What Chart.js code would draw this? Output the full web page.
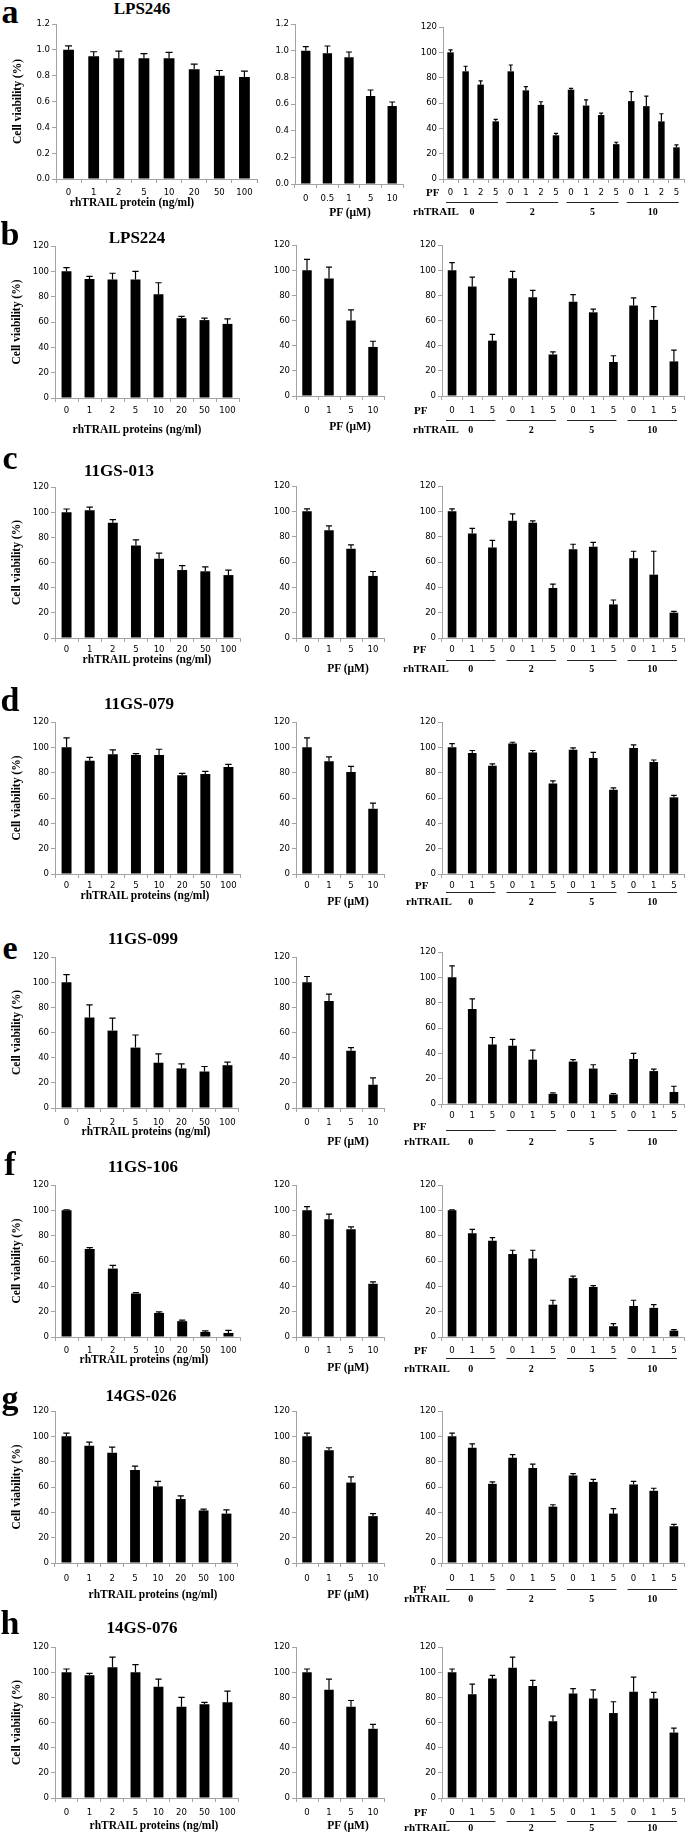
<!DOCTYPE html>
<html>
<head>
<meta charset="utf-8">
<script src="https://cdn.jsdelivr.net/npm/chart.js@4.4.1/dist/chart.umd.min.js"></script>
<style>
  html, body { margin: 0; padding: 0; background: #fff; }
  #fig { position: relative; width: 685px; height: 1837px; overflow: hidden; }
  #fig canvas { position: absolute; }
  .t { position: absolute; white-space: nowrap; font-family: "Liberation Serif", "Times New Roman", serif;
       font-weight: bold; color: #000; line-height: 1; transform: translate(-50%, -50%); }
</style>
</head>
<body>
<div id="fig"></div>
<script>
// x categories
const trailDoses = ["0", "1", "2", "5", "10", "20", "50", "100"];
const pfDosesA = ["0", "0.5", "1", "5", "10"];
const pfDoses = ["0", "1", "5", "10"];
const comboPfA = ["0", "1", "2", "5"];
const comboPf = ["0", "1", "5"];
const trailGroups = ["0", "2", "5", "10"];

// a - LPS246
const lps246Trail = [1.00, 0.95, 0.935, 0.935, 0.935, 0.85, 0.80, 0.79];
const lps246TrailErr = [0.03, 0.035, 0.055, 0.035, 0.045, 0.04, 0.04, 0.045];
const lps246Pf = [1.00, 0.98, 0.95, 0.66, 0.585];
const lps246PfErr = [0.03, 0.055, 0.04, 0.045, 0.03];
const lps246Combo = [100, 85, 74.5, 45.5, 85, 70, 58.5, 34.5, 70.5, 58, 50.5, 27.5, 61.5, 57.5, 45.5, 25];
const lps246ComboErr = [2, 4, 3, 1.5, 5, 3, 2.5, 1.5, 1, 4.5, 1.5, 1.5, 7.5, 8, 6, 2];

// b - LPS224
const lps224Trail = [100, 94, 93.5, 93.5, 82, 63, 61.5, 58.5];
const lps224TrailErr = [3, 2, 5, 6.5, 9, 1.5, 1.5, 4];
const lps224Pf = [100, 93.4, 60, 39];
const lps224PfErr = [8.5, 9, 8.5, 4.5];
const lps224Combo = [100, 87, 44, 93.5, 78.5, 33, 75, 66.5, 27, 72, 60.5, 27.5];
const lps224ComboErr = [6, 7.5, 5, 5.5, 5.5, 2, 5.5, 2.5, 5, 6, 10.5, 9];

// c - 11GS-013
const gs013Trail = [100, 101.5, 91.5, 73.5, 63, 54, 53, 50];
const gs013TrailErr = [2.5, 2.5, 2.5, 4.5, 4.5, 3.5, 3.5, 4];
const gs013Pf = [100, 85, 70.5, 49];
const gs013PfErr = [2, 3.5, 3, 3.5];
const gs013Combo = [100, 82.5, 71.5, 92.5, 91, 39.5, 70, 72, 26.5, 63, 50, 20];
const gs013ComboErr = [2, 4, 5.5, 5.5, 1.5, 3, 4, 3.5, 3.5, 5.5, 18.5, 1];

// d - 11GS-079
const gs079Trail = [100, 89.5, 94.5, 94, 94, 78, 79, 84.5];
const gs079TrailErr = [7.5, 2.5, 3.5, 1, 4.5, 1.5, 2, 2];
const gs079Pf = [100, 89, 80.5, 51.5];
const gs079PfErr = [7.5, 3.5, 4.5, 4.5];
const gs079Combo = [100, 95.5, 85.5, 103, 96, 71.5, 98, 91.5, 66.5, 99.5, 88.5, 60.5];
const gs079ComboErr = [3, 2, 1.5, 1, 1.5, 2, 1.5, 4.5, 1.5, 2.5, 1.5, 1.5];

// e - 11GS-099
const gs099Trail = [100, 72, 61.5, 48, 36, 31.5, 29, 34];
const gs099TrailErr = [6, 10, 10, 10, 7, 3.5, 4, 2.5];
const gs099Pf = [100, 85, 45.5, 18.5];
const gs099PfErr = [4.5, 5.5, 2.5, 5.5];
const gs099Combo = [100, 75, 47, 46, 35, 8, 33.5, 28, 7.5, 35.5, 26, 9.5];
const gs099ComboErr = [9, 8, 5.5, 5, 7.5, 0.8, 1.5, 3, 0.8, 4.5, 1.5, 4.5];

// f - 11GS-106
const gs106Trail = [100, 69.5, 54, 34.3, 19, 12.5, 4, 3.2];
const gs106TrailErr = [0.4, 1, 2.5, 0.8, 0.8, 0.8, 0.8, 2];
const gs106Pf = [100, 93, 85, 42];
const gs106PfErr = [3, 4, 2, 1.5];
const gs106Combo = [100, 82, 76, 65.5, 62, 25.5, 46.5, 39.5, 8.5, 24.5, 23, 5];
const gs106ComboErr = [0.4, 3, 2.5, 3, 6.5, 3.5, 1.5, 1, 2, 4.5, 2.5, 0.8];

// g - 14GS-026
const gs026Trail = [100, 92.5, 87, 73.5, 60.5, 50.5, 41.5, 39];
const gs026TrailErr = [2.5, 3, 4.5, 3, 4, 2.5, 1, 3];
const gs026Pf = [100, 89, 63.5, 37];
const gs026PfErr = [2.5, 2, 4.5, 2];
const gs026Combo = [100, 91, 62.5, 83, 75, 44.5, 69, 64, 39, 62, 57, 29];
const gs026ComboErr = [2.5, 3, 1.5, 2.5, 3, 1.5, 1.5, 2, 4, 2.5, 2, 1.5];

// h - 14GS-076
const gs076Trail = [100, 97.5, 104, 100, 88.5, 72.5, 74.5, 76];
const gs076TrailErr = [2.5, 1.5, 8, 6, 6, 7.5, 1.5, 9];
const gs076Pf = [100, 86, 72.5, 55];
const gs076PfErr = [2.5, 8.5, 5, 3.5];
const gs076Combo = [100, 82.5, 95, 103.5, 89, 61, 83, 79, 67.5, 84.5, 79, 52];
const gs076ComboErr = [2.5, 8, 2.5, 8.5, 4.5, 4, 4, 7, 9, 11.5, 5, 3.5];

const AXIS = "#a3a3a3";
const SERIF = "'Liberation Serif', 'Times New Roman', serif";
const TICK_FONT = { family: "'Liberation Sans Narrow', 'DejaVu Sans Condensed', 'Liberation Sans', sans-serif", size: 9.5 };

const fig = document.getElementById("fig");

function addText(text, cx, cy, size) {
  const el = document.createElement("div");
  el.className = "t";
  el.textContent = text;
  el.style.fontSize = size + "px";
  el.style.left = cx + "px";
  el.style.top = cy + "px";
  fig.appendChild(el);
}

// upper error bars only
const errorBars = {
  id: "errorBars",
  afterDatasetsDraw(chart) {
    const ds = chart.data.datasets[0];
    const yScale = chart.scales.y;
    const ctx = chart.ctx;
    ctx.save();
    ctx.strokeStyle = "#000";
    ctx.lineWidth = 1.2;
    chart.getDatasetMeta(0).data.forEach((bar, i) => {
      const yTop = yScale.getPixelForValue(ds.data[i] + ds.errors[i]);
      const cap = bar.width * 0.32;
      ctx.beginPath();
      ctx.moveTo(bar.x, bar.y);
      ctx.lineTo(bar.x, yTop);
      ctx.moveTo(bar.x - cap, yTop);
      ctx.lineTo(bar.x + cap, yTop);
      ctx.stroke();
    });
    ctx.restore();
  }
};

// second row of the combination axis: underlines, rhTRAIL doses, row headers
const groupAxis = {
  id: "groupAxis",
  afterDraw(chart) {
    const g = chart.data.datasets[0].groupCfg;
    if (!g) return;
    const x = chart.scales.x;
    const ctx = chart.ctx;
    const step = x.getPixelForValue(1) - x.getPixelForValue(0);
    ctx.save();
    ctx.fillStyle = "#000";
    ctx.strokeStyle = "#222";
    ctx.lineWidth = 1;
    ctx.textAlign = "center";
    ctx.textBaseline = "middle";
    ctx.font = "bold 10px " + SERIF;
    g.groups.forEach((label, gi) => {
      const a = x.getPixelForValue(gi * g.size) - step * 0.3;
      const b = x.getPixelForValue(gi * g.size + g.size - 1) + step * 0.15;
      const uy = Math.round(g.lineY - g.top) + 0.5;
      ctx.beginPath();
      ctx.moveTo(a, uy);
      ctx.lineTo(b, uy);
      ctx.stroke();
      ctx.fillText(label, (a + b) / 2, g.groupY - g.top);
    });
    ctx.font = "bold 11px " + SERIF;
    ctx.textAlign = "left";
    ctx.fillText("PF", g.pfX - g.left, g.pfY - g.top);
    ctx.fillText("rhTRAIL", g.trailX - g.left, g.groupY - g.top);
    ctx.restore();
  }
};

function makePanel(p) {
  const L = p.left || 40, T = 8, R = 1, B = 50;
  const w = p.x1 - p.x0 + L + R;
  const h = p.yBot - p.yTop + T + B;
  const left = p.x0 - L, top = p.yTop - T;
  const canvas = document.createElement("canvas");
  canvas.width = w;
  canvas.height = h;
  canvas.style.left = left + "px";
  canvas.style.top = top + "px";
  canvas.style.width = w + "px";
  canvas.style.height = h + "px";
  fig.appendChild(canvas);

  let groupCfg = null;
  if (p.group) {
    groupCfg = Object.assign({ left, top }, p.group);
  }

  new Chart(canvas, {
    type: "bar",
    data: {
      labels: p.labels,
      datasets: [{
        data: p.values,
        errors: p.errors,
        groupCfg,
        backgroundColor: "#000",
        borderWidth: 0,
        barPercentage: 0.43,
        categoryPercentage: 1
      }]
    },
    options: {
      responsive: false,
      animation: false,
      devicePixelRatio: 1,
      layout: { padding: { left: 0, top: T, right: R, bottom: 0 } },
      plugins: { legend: { display: false }, tooltip: { enabled: false } },
      scales: {
        x: {
          grid: { offset: true, drawOnChartArea: false, tickLength: 4, color: AXIS },
          border: { color: AXIS },
          ticks: { font: TICK_FONT, color: "#000", padding: p.labelOffset - 4 - 5.7, autoSkip: false, maxRotation: 0 },
          afterFit(s) { s.height = B; }
        },
        y: {
          min: 0,
          max: p.max,
          ticks: {
            stepSize: p.step,
            font: TICK_FONT,
            color: "#000",
            padding: 2,
            callback: (v) => (p.max < 2 ? Number(v).toFixed(1) : String(v))
          },
          grid: { drawOnChartArea: false, tickLength: 4, color: AXIS },
          border: { color: AXIS },
          title: {
            display: !!p.yTitle,
            text: "Cell viability (%)",
            color: "#000",
            font: { family: SERIF, size: 11.5, weight: "bold" },
            padding: { top: 7, bottom: 0 }
          },
          afterFit(s) { s.width = L; }
        }
      }
    },
    plugins: [errorBars, groupAxis]
  });
}

const rows = [
  { letter: "a", letterY: 12, name: "LPS246", nameX: 142, nameY: 8,
    trail: lps246Trail, trailErr: lps246TrailErr, pf: lps246Pf, pfErr: lps246PfErr,
    combo: lps246Combo, comboErr: lps246ComboErr, fraction: true,
    trailTitle: "rhTRAIL protein (ng/ml)",
    p1: [56, 257, 24, 179, 14], t1: [132, 203],
    p2: [295, 403, 24, 184, 15], t2: [350, 213],
    p3: [443, 684, 27, 179, 14], g3: { pfY: 193, pfX: 426, lineY: 202, groupY: 212, trailX: 413 } },
  { letter: "b", letterY: 234, name: "LPS224", nameX: 137, nameY: 237,
    trail: lps224Trail, trailErr: lps224TrailErr, pf: lps224Pf, pfErr: lps224PfErr,
    combo: lps224Combo, comboErr: lps224ComboErr,
    p1: [55, 239, 246, 398, 13], t1: [137, 430],
    p2: [296, 384, 245, 396, 15], t2: [350, 427],
    p3: [442, 684, 245, 396, 15], g3: { pfY: 411, pfX: 414, lineY: 420, groupY: 430, trailX: 413 } },
  { letter: "c", letterY: 458, name: "11GS-013", nameX: 119, nameY: 470,
    trail: gs013Trail, trailErr: gs013TrailErr, pf: gs013Pf, pfErr: gs013PfErr,
    combo: gs013Combo, comboErr: gs013ComboErr,
    p1: [55, 240, 487, 638, 12], t1: [147, 660],
    p2: [296, 384, 486, 638, 12], t2: [348, 669],
    p3: [442, 684, 486, 638, 12], g3: { pfY: 650, pfX: 413, lineY: 660, groupY: 669, trailX: 403 } },
  { letter: "d", letterY: 700, name: "11GS-079", nameX: 139, nameY: 703,
    trail: gs079Trail, trailErr: gs079TrailErr, pf: gs079Pf, pfErr: gs079PfErr,
    combo: gs079Combo, comboErr: gs079ComboErr,
    p1: [55, 240, 722, 874, 12], t1: [145, 896],
    p2: [296, 384, 722, 874, 12], t2: [348, 902],
    p3: [442, 684, 722, 874, 12], g3: { pfY: 886, pfX: 415, lineY: 892, groupY: 902, trailX: 406 } },
  { letter: "e", letterY: 948, name: "11GS-099", nameX: 143, nameY: 938,
    trail: gs099Trail, trailErr: gs099TrailErr, pf: gs099Pf, pfErr: gs099PfErr,
    combo: gs099Combo, comboErr: gs099ComboErr,
    p1: [55, 240, 957, 1108, 15], t1: [146, 1132],
    p2: [296, 384, 957, 1108, 15], t2: [348, 1142],
    p3: [442, 684, 952, 1104, 12], g3: { pfY: 1127, pfX: 413, lineY: 1130, groupY: 1142, trailX: 404 } },
  { letter: "f", letterY: 1164, name: "11GS-106", nameX: 143, nameY: 1166,
    trail: gs106Trail, trailErr: gs106TrailErr, pf: gs106Pf, pfErr: gs106PfErr,
    combo: gs106Combo, comboErr: gs106ComboErr,
    p1: [55, 240, 1185, 1337, 14], t1: [144, 1360],
    p2: [296, 384, 1185, 1337, 14], t2: [348, 1368],
    p3: [442, 684, 1185, 1337, 14], g3: { pfY: 1351, pfX: 414, lineY: 1358, groupY: 1369, trailX: 404 } },
  { letter: "g", letterY: 1398, name: "14GS-026", nameX: 141, nameY: 1395,
    trail: gs026Trail, trailErr: gs026TrailErr, pf: gs026Pf, pfErr: gs026PfErr,
    combo: gs026Combo, comboErr: gs026ComboErr,
    p1: [55, 240, 1411, 1563, 16], t1: [153, 1595],
    p2: [296, 384, 1411, 1563, 16], t2: [348, 1595],
    p3: [442, 684, 1411, 1563, 16], g3: { pfY: 1590, pfX: 413, lineY: 1589, groupY: 1599, trailX: 404 } },
  { letter: "h", letterY: 1623, name: "14GS-076", nameX: 142, nameY: 1627,
    trail: gs076Trail, trailErr: gs076TrailErr, pf: gs076Pf, pfErr: gs076PfErr,
    combo: gs076Combo, comboErr: gs076ComboErr,
    p1: [55, 240, 1647, 1798, 15], t1: [154, 1826],
    p2: [296, 384, 1647, 1798, 15], t2: [348, 1826],
    p3: [442, 684, 1647, 1798, 15], g3: { pfY: 1813, pfX: 414, lineY: 1821, groupY: 1828, trailX: 404 } }
];

rows.forEach((r) => {
  const max = r.fraction ? 1.2 : 120;
  const step = r.fraction ? 0.2 : 20;
  const pfPer = r.fraction ? comboPfA : comboPf;

  addText(r.letter, 10, r.letterY, 34);
  addText(r.name, r.nameX, r.nameY, 17);

  makePanel({ x0: r.p1[0], x1: r.p1[1], yTop: r.p1[2], yBot: r.p1[3], labelOffset: r.p1[4],
    labels: trailDoses, values: r.trail, errors: r.trailErr, max, step, yTitle: true, left: 52 });
  addText(r.trailTitle || "rhTRAIL proteins (ng/ml)", r.t1[0], r.t1[1], 11.5);

  makePanel({ x0: r.p2[0], x1: r.p2[1], yTop: r.p2[2], yBot: r.p2[3], labelOffset: r.p2[4],
    labels: r.fraction ? pfDosesA : pfDoses, values: r.pf, errors: r.pfErr, max, step });
  addText("PF (\u03bcM)", r.t2[0], r.t2[1], 11.5);

  makePanel({ x0: r.p3[0], x1: r.p3[1], yTop: r.p3[2], yBot: r.p3[3], labelOffset: r.p3[4],
    labels: trailGroups.flatMap(() => pfPer), values: r.combo, errors: r.comboErr, max: 120, step: 20,
    group: Object.assign({ groups: trailGroups, size: pfPer.length }, r.g3) });
});
</script>
</body>
</html>
